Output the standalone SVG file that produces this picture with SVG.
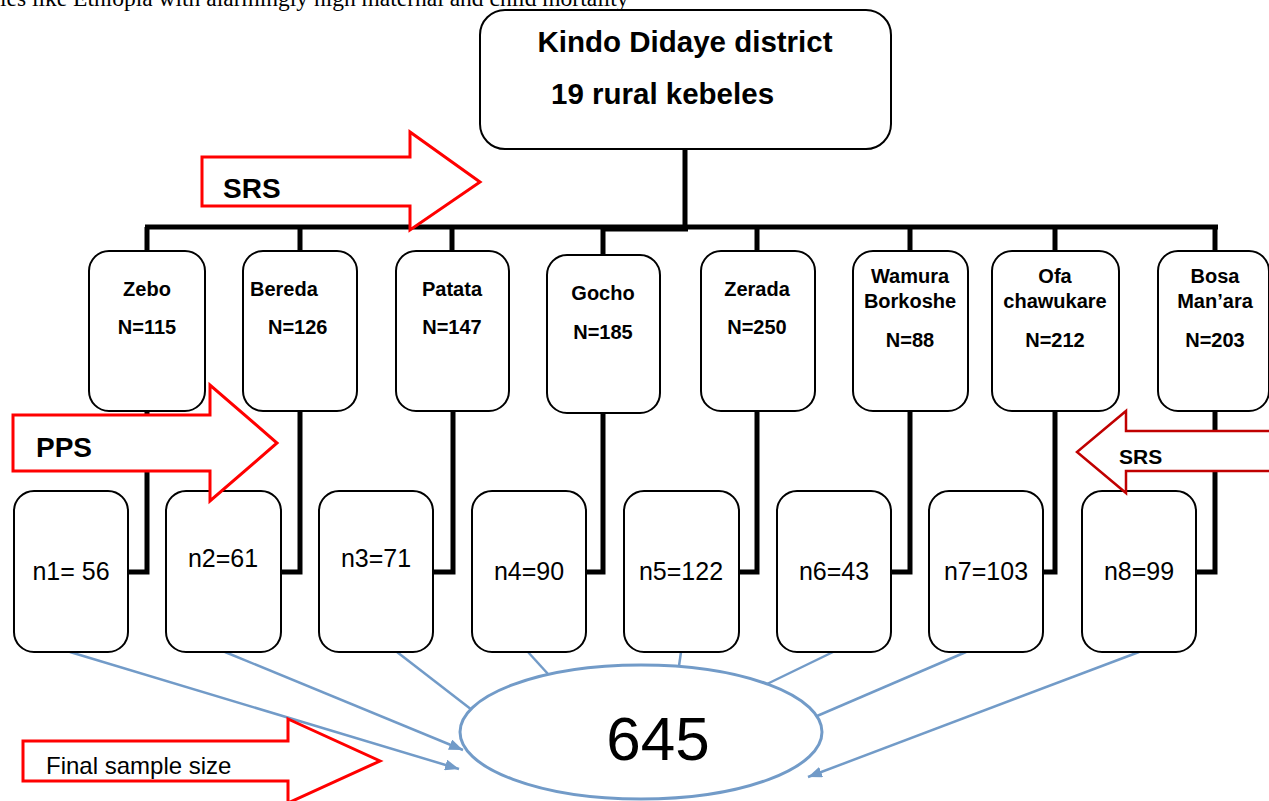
<svg xmlns="http://www.w3.org/2000/svg" width="1269" height="801" viewBox="0 0 1269 801">
<defs>
<style>
.box{fill:#fff;stroke:#000;stroke-width:2}
.thick{fill:none;stroke:#000;stroke-width:5;stroke-linejoin:miter}
.blue{fill:none;stroke:#729bc8;stroke-width:2.5}
.ell{fill:#fff;stroke:#729bc8;stroke-width:3}
.red{fill:#fff;stroke:#ff0000;stroke-width:3}
.dred{fill:#fff;stroke:#c00000;stroke-width:2.5}
.t{font-family:"Liberation Sans",Arial,sans-serif;fill:#000}
.kb{font-family:"Liberation Sans",Arial,sans-serif;font-weight:bold;font-size:20px;fill:#000;text-anchor:middle}
.ks{font-family:"Liberation Sans",Arial,sans-serif;font-weight:bold;font-size:20px;fill:#000}
.nt{font-family:"Liberation Sans",Arial,sans-serif;font-size:25px;fill:#000;text-anchor:middle}
</style>
<marker id="ah" markerUnits="userSpaceOnUse" markerWidth="14" markerHeight="11" viewBox="0 0 14 11" refX="14" refY="5.5" orient="auto">
<path d="M0,0 L14,5.5 L0,11 z" fill="#729bc8"/>
</marker>
</defs>
<rect width="1269" height="801" fill="#fff"/>
<text x="0" y="6" font-family="'Liberation Serif','Times New Roman',serif" font-size="23.5" fill="#000">ies like Ethiopia with alarmingly high maternal and child mortality</text>

<g id="connectors">
<path class="thick" d="M685,149 V227 M145,227 H1218 M147,227 V251 M300,227 V251 M452,227 V251 M603,227 V255 M757,227 V251 M910,227 V251 M1055,227 V251 M1215,227 V251"/>
<path class="thick" d="M603,229 H688"/>
<path class="thick" d="M147,411 V572 H128"/>
<path class="thick" d="M300,411 V572 H281"/>
<path class="thick" d="M453,411 V572 H433"/>
<path class="thick" d="M603,413 V572 H586"/>
<path class="thick" d="M757,411 V572 H739"/>
<path class="thick" d="M910,411 V572 H891"/>
<path class="thick" d="M1055,411 V572 H1043"/>
<path class="thick" d="M1215,411 V572 H1196"/>
<line class="blue" x1="70" y1="652" x2="459" y2="769" marker-end="url(#ah)"/>
<line class="blue" x1="225" y1="652" x2="463" y2="750" marker-end="url(#ah)"/>
<line class="blue" x1="397" y1="652" x2="472" y2="710"/>
<line class="blue" x1="528" y1="652" x2="548" y2="674"/>
<line class="blue" x1="681" y1="652" x2="679" y2="666"/>
<line class="blue" x1="833" y1="652" x2="767" y2="684"/>
<line class="blue" x1="966" y1="652" x2="817" y2="716"/>
<line class="blue" x1="1139" y1="652" x2="808" y2="777" marker-end="url(#ah)"/>
</g>

<g id="district">
<rect class="box" x="480" y="10" width="411" height="139" rx="25"/>
<text class="t" x="685" y="52" font-size="29.5" font-weight="bold" text-anchor="middle">Kindo Didaye district</text>
<text class="t" x="551" y="104" font-size="29.5" font-weight="bold">19 rural kebeles</text>
</g>

<g id="zebo"><rect class="box" x="89" y="251" width="116" height="160" rx="20"/><text class="kb" x="147" y="296">Zebo</text><text class="kb" x="147" y="334">N=115</text></g>
<g id="bereda"><rect class="box" x="243" y="251" width="114" height="160" rx="20"/><text class="ks" x="250" y="296">Bereda</text><text class="ks" x="268" y="334">N=126</text></g>
<g id="patata"><rect class="box" x="396" y="251" width="113" height="160" rx="20"/><text class="kb" x="452" y="296">Patata</text><text class="kb" x="452" y="334">N=147</text></g>
<g id="gocho"><rect class="box" x="547" y="255" width="113" height="158" rx="20"/><text class="kb" x="603" y="300">Gocho</text><text class="kb" x="603" y="339">N=185</text></g>
<g id="zerada"><rect class="box" x="701" y="251" width="114" height="160" rx="20"/><text class="kb" x="757" y="296">Zerada</text><text class="kb" x="757" y="334">N=250</text></g>
<g id="wamura"><rect class="box" x="853" y="251" width="115" height="160" rx="20"/><text class="kb" x="910" y="283">Wamura</text><text class="kb" x="910" y="308">Borkoshe</text><text class="kb" x="910" y="347">N=88</text></g>
<g id="ofa"><rect class="box" x="992" y="251" width="127" height="160" rx="20"/><text class="kb" x="1055" y="283">Ofa</text><text class="kb" x="1055" y="308">chawukare</text><text class="kb" x="1055" y="347">N=212</text></g>
<g id="bosa"><rect class="box" x="1158" y="251" width="111" height="160" rx="20"/><text class="kb" x="1215" y="283">Bosa</text><text class="kb" x="1215" y="308">Man’ara</text><text class="kb" x="1215" y="347">N=203</text></g>

<g id="n1"><rect class="box" x="14" y="491" width="114" height="161" rx="20"/><text class="nt" x="71" y="580">n1= 56</text></g>
<g id="n2"><rect class="box" x="166" y="491" width="115" height="161" rx="20"/><text class="nt" x="223" y="567">n2=61</text></g>
<g id="n3"><rect class="box" x="319" y="491" width="114" height="161" rx="20"/><text class="nt" x="376" y="567">n3=71</text></g>
<g id="n4"><rect class="box" x="472" y="491" width="114" height="161" rx="20"/><text class="nt" x="529" y="580">n4=90</text></g>
<g id="n5"><rect class="box" x="624" y="491" width="115" height="161" rx="20"/><text class="nt" x="681" y="580">n5=122</text></g>
<g id="n6"><rect class="box" x="777" y="491" width="114" height="161" rx="20"/><text class="nt" x="834" y="580">n6=43</text></g>
<g id="n7"><rect class="box" x="929" y="491" width="114" height="161" rx="20"/><text class="nt" x="986" y="580">n7=103</text></g>
<g id="n8"><rect class="box" x="1082" y="491" width="114" height="161" rx="20"/><text class="nt" x="1139" y="580">n8=99</text></g>

<g id="total">
<ellipse class="ell" cx="641" cy="732" rx="181" ry="67"/>
<text class="t" x="658" y="760" font-size="62" text-anchor="middle">645</text>
</g>

<g id="srs-top"><polygon class="red" points="202,157 410,157 410,132 480,182 410,230 410,206 202,206"/><text class="t" x="223" y="198" font-size="28" font-weight="bold">SRS</text></g>
<g id="pps"><polygon class="red" points="13,415 210,415 210,385 277,443 210,501 210,471 13,471"/><text class="t" x="36" y="457" font-size="28" font-weight="bold">PPS</text></g>
<g id="srs-right"><polygon class="dred" points="1275,431 1126,431 1126,411 1077,452 1126,493 1126,471 1275,471"/><text class="t" x="1119" y="464" font-size="21" font-weight="bold">SRS</text></g>
<g id="final"><polygon class="red" points="23,741 288,741 288,719 380,761 288,803 288,781 23,781"/><text class="t" x="46" y="774" font-size="24">Final sample size</text></g>
</svg>
